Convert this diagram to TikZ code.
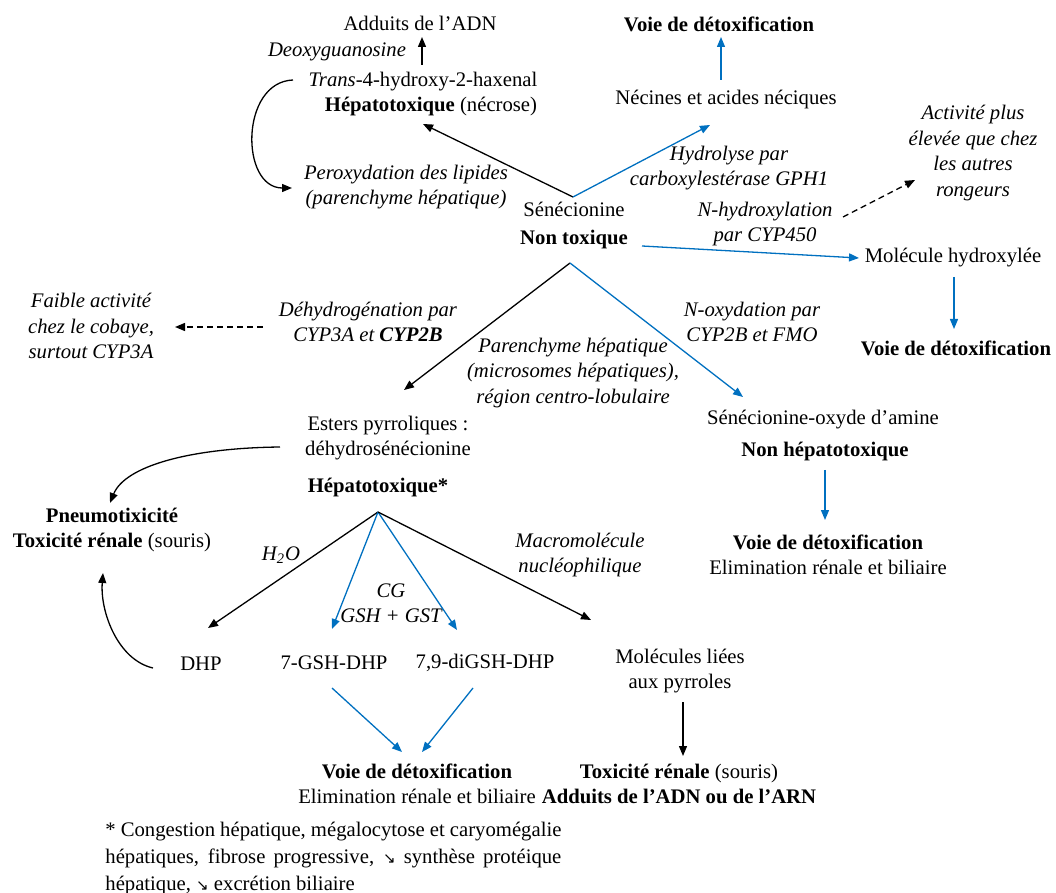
\documentclass[tikz,border=0pt]{standalone}
\usepackage{fontspec}
\setmainfont{Liberation Serif}
\newfontfamily\symfont{DejaVu Sans}
\usetikzlibrary{arrows.meta}
\definecolor{detox}{RGB}{0,112,192}
\newcommand{\down}{{\symfont\fontsize{7.5}{7.5}\selectfont ↘}}

\tikzset{
  txt/.style={inner sep=0pt, align=center, font=\fontsize{10.35}{12.75}\selectfont},
  note/.style={txt, font=\fontsize{10.35}{12.75}\selectfont\itshape},
  hd/.style={txt, font=\fontsize{10.35}{12.75}\selectfont\bfseries},
  tox/.style={draw=black, line width=0.65pt, -{Triangle[length=5pt,width=4pt]}},
  det/.style={draw=detox, line width=0.65pt, -{Triangle[length=5pt,width=4pt]}},
  weak/.style={tox, dash pattern=on 3pt off 2pt}
}

\begin{document}
\begin{tikzpicture}[x=0.5pt, y=-0.5pt]
\path[use as bounding box] (0,0) rectangle (1056,893);

% ---------- upper part: senecionine and its first metabolites ----------
\node[txt]  (adn)   at (420,23)  {Adduits de l’ADN};
\node[note] (deoxy) at (337,52)  {Deoxyguanosine};
\node[txt]  (trans) at (423,82)  {\textit{Trans}-4-hydroxy-2-haxenal};
\node[txt]  (hep1)  at (431,107) {\textbf{Hépatotoxique} (nécrose)};
\node[note] (perox) at (406,187) {Peroxydation des lipides\\(parenchyme hépatique)};
\node[txt]  (sen)   at (574,226) {Sénécionine\\[1.25pt]\textbf{Non toxique}};

\node[hd]   (voie1) at (719,24)  {Voie de détoxification};
\node[txt]  (nec)   at (726,100) {Nécines et acides néciques};
\node[note] (hydro) at (729,168) {Hydrolyse par\\carboxylestérase GPH1};
\node[note] (nhyd)  at (765,224) {N-hydroxylation\\par CYP450};
\node[note] (act)   at (973,153) {Activité plus\\élevée que chez\\les autres\\rongeurs};
\node[txt]  (molh)  at (953,258) {Molécule hydroxylée};
\node[hd]   (voie2) at (956,348) {Voie de détoxification};

% ---------- middle part ----------
\node[note] (faible) at (91,326)  {Faible activité\\chez le cobaye,\\surtout CYP3A};
\node[note] (dehyd)  at (368,322) {Déhydrogénation par\\CYP3A et \textbf{CYP2B}};
\node[note] (paren)  at (573,373) {Parenchyme hépatique\\(microsomes hépatiques),\\région centro-lobulaire};
\node[note] (noxy)   at (752,322) {N-oxydation par\\CYP2B et FMO};
\node[txt]  (senox)  at (823,420) {Sénécionine-oxyde d’amine};
\node[hd]   (nonhep) at (825,452) {Non hépatotoxique};
\node[txt]  (voie3)  at (828,555) {\textbf{Voie de détoxification}\\Elimination rénale et biliaire};

\node[txt]  (esters) at (388,438) {Esters pyrroliques :\\déhydrosénécionine};
\node[hd]   (hep2)   at (378,488) {Hépatotoxique*};
\node[txt]  (pneumo) at (112,530) {\textbf{Pneumotixicité}\\\textbf{Toxicité rénale} (souris)};
\node[note] (h2o)    at (281,555) {H\textsubscript{2}O};
\node[note] (macro)  at (580,555) {Macromolécule\\nucléophilique};
\node[note] (cg)     at (391,603) {CG\\GSH + GST};

% ---------- lower part ----------
\node[txt] (dhp)    at (201,664) {DHP};
\node[txt] (gsh7)   at (334,663) {7-GSH-DHP};
\node[txt] (gsh79)  at (485,663) {7,9-diGSH-DHP};
\node[txt] (liees)  at (680,671) {Molécules liées\\aux pyrroles};
\node[txt] (voie4)  at (417,784) {\textbf{Voie de détoxification}\\Elimination rénale et biliaire};
\node[txt] (toxr)   at (679,784) {\textbf{Toxicité rénale} (souris)\\\textbf{Adduits de l’ADN ou de l’ARN}};

\node[inner sep=0pt, anchor=north west, text width=228pt, align=justify,
      font=\fontsize{10.35}{13.4}\selectfont] (foot) at (105,822)
  {* Congestion hépatique, mégalocytose et caryomégalie\linebreak
   hépatiques, fibrose progressive, \down{} synthèse protéique\linebreak
   hépatique, \down{} excrétion biliaire};

% ---------- connector end points ----------
\coordinate (transTop)  at (422,65);
\coordinate (adnFoot)   at (422,37);
\coordinate (transLeft) at (293,80);
\coordinate (peroxIn)   at (292,188);
\coordinate (senUp)     at (573,197);
\coordinate (hep1In)    at (423,124);
\coordinate (necIn)     at (710,125);
\coordinate (necTop)    at (721,80);
\coordinate (voie1In)   at (721,37);
\coordinate (nhydOut)   at (843,217);
\coordinate (actIn)     at (915,180);
\coordinate (senRight)  at (642,246);
\coordinate (molhIn)    at (859,258);
\coordinate (molhFoot)  at (954,277);
\coordinate (voie2In)   at (954,329);
\coordinate (senDown)   at (570,263);
\coordinate (estersIn)  at (404,390);
\coordinate (senoxIn)   at (743,397);
\coordinate (dehydOut)  at (263,327);
\coordinate (faibleIn)  at (175,327);
\coordinate (nonhepOut) at (825,470);
\coordinate (voie3In)   at (825,520);
\coordinate (estersOut) at (280,447);
\coordinate (pneumoIn)  at (110,503);
\coordinate (hepFork)   at (378,512);
\coordinate (dhpIn)     at (208,628);
\coordinate (gsh7In)    at (332,629);
\coordinate (gsh79In)   at (457,630);
\coordinate (lieesIn)   at (591,620);
\coordinate (dhpOut)    at (153,668);
\coordinate (pneumoUp)  at (103,573);
\coordinate (gsh7Out)   at (332,688);
\coordinate (gsh79Out)  at (473,688);
\coordinate (voie4L)    at (402,752);
\coordinate (voie4R)    at (422,752);
\coordinate (lieesOut)  at (683,702);
\coordinate (toxrIn)    at (683,756);

% ---------- connectors ----------
\draw[tox] (transTop) -- (adnFoot);
\draw[tox] (transLeft) .. controls (240,82) and (240,188) .. (peroxIn);
\draw[tox] (senUp) -- (hep1In);
\draw[det] (senUp) -- (necIn);
\draw[det] (necTop) -- (voie1In);
\draw[weak] (nhydOut) -- (actIn);
\draw[det] (senRight) -- (molhIn);
\draw[det] (molhFoot) -- (voie2In);
\draw[tox] (senDown) -- (estersIn);
\draw[det] (senDown) -- (senoxIn);
\draw[weak] (dehydOut) -- (faibleIn);
\draw[det] (nonhepOut) -- (voie3In);
\draw[tox] (estersOut) .. controls (190,448) and (125,466) .. (pneumoIn);
\draw[tox] (hepFork) -- (dhpIn);
\draw[det] (hepFork) -- (gsh7In);
\draw[det] (hepFork) -- (gsh79In);
\draw[tox] (hepFork) -- (lieesIn);
\draw[tox] (dhpOut) .. controls (118,660) and (100,612) .. (pneumoUp);
\draw[det] (gsh7Out) -- (voie4L);
\draw[det] (gsh79Out) -- (voie4R);
\draw[tox] (lieesOut) -- (toxrIn);
\end{tikzpicture}
\end{document}
